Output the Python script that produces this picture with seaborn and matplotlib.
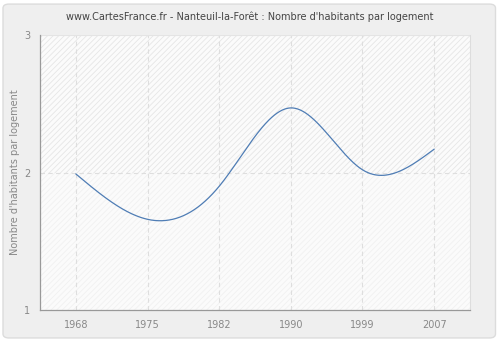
import numpy as np
import pandas as pd
import matplotlib
matplotlib.use("Agg")
import matplotlib.pyplot as plt
import seaborn as sns
from matplotlib.patches import FancyBboxPatch

years = ["1968", "1975", "1982", "1990", "1999", "2007"]
values = [1.99, 1.66, 1.90, 2.47, 2.02, 2.17]
y_ticks = [1, 2, 3]

title = "www.CartesFrance.fr - Nanteuil-la-Forêt : Nombre d'habitants par logement"
ylabel = "Nombre d'habitants par logement"


def natural_spline(x, y, n=400):
    x = np.asarray(x, float)
    y = np.asarray(y, float)
    k = len(x)
    h = np.diff(x)
    A = np.zeros((k, k))
    b = np.zeros(k)
    A[0, 0] = 1
    A[-1, -1] = 1
    for i in range(1, k - 1):
        A[i, i - 1] = h[i - 1]
        A[i, i] = 2 * (h[i - 1] + h[i])
        A[i, i + 1] = h[i]
        b[i] = 3 * ((y[i + 1] - y[i]) / h[i] - (y[i] - y[i - 1]) / h[i - 1])
    c = np.linalg.solve(A, b)
    xs = np.linspace(x[0], x[-1], n)
    ys = np.empty_like(xs)
    for j, xv in enumerate(xs):
        i = min(np.searchsorted(x, xv, side="right") - 1, k - 2)
        dx = xv - x[i]
        bi = (y[i + 1] - y[i]) / h[i] - h[i] * (2 * c[i] + c[i + 1]) / 3
        di = (c[i + 1] - c[i]) / (3 * h[i])
        ys[j] = y[i] + bi * dx + c[i] * dx ** 2 + di * dx ** 3
    return xs, ys


sns.set_theme(style="white")
plt.rcParams["font.family"] = ["DejaVu Sans"]
plt.rcParams["hatch.linewidth"] = 0.6

fig = plt.figure(figsize=(5, 3.4), dpi=100, facecolor="white")
bg = FancyBboxPatch((0.006, 0.006), 0.985, 0.982, boxstyle="round,pad=0,rounding_size=0.012",
                    transform=fig.transFigure, facecolor="#efefef", edgecolor="#dcdcdc",
                    linewidth=1.0, zorder=-10)
fig.patches.append(bg)

ax = fig.add_axes([0.08, 0.088, 0.86, 0.809])
ax.set_facecolor("white")

pos = np.arange(len(years))
xs, ys = natural_spline(pos, values)
df = pd.DataFrame({"x": xs, "y": ys})

ax.axhspan(2, 3, facecolor="#fbfbfb", edgecolor="#e6e6e6", hatch="//////", linewidth=0, zorder=0)
ax.axhspan(1, 2, facecolor="#fbfbfb", edgecolor="#f1f1f1", hatch="//////", linewidth=0, zorder=0)

for p in pos:
    ax.axvline(p, color="#dedede", linestyle=(0, (4, 3)), linewidth=0.8, zorder=1)
ax.axhline(2, color="#dedede", linestyle=(0, (4, 3)), linewidth=0.8, zorder=1)
ax.axhline(3, color="#e4e4e4", linewidth=0.8, zorder=1)

sns.lineplot(data=df, x="x", y="y", ax=ax, color="#4f7db5", linewidth=0.9, zorder=3,
             estimator=None, sort=False)

ax.set_xlim(-0.5, 5.5)
ax.set_ylim(1, 3)
ax.set_xticks(pos)
ax.set_xticklabels(years)
ax.set_yticks(y_ticks)
ax.set_yticklabels([str(t) for t in y_ticks])
ax.tick_params(axis="both", colors="#999999", labelcolor="#888888", labelsize=7,
               length=4, width=0.8, direction="out")
ax.tick_params(axis="x", pad=3)
ax.tick_params(axis="y", pad=3)
ax.set_xlabel("")
ax.set_ylabel(ylabel, fontsize=7, color="#888888", labelpad=3)

for s in ["left", "bottom"]:
    ax.spines[s].set_color("#999999")
    ax.spines[s].set_linewidth(0.9)
ax.spines["top"].set_visible(False)
ax.spines["right"].set_color("#dddddd")
ax.spines["right"].set_linewidth(0.8)

fig.text(0.5, 0.95, title, ha="center", va="center", fontsize=7, color="#444444")

fig.savefig("out.png", dpi=100, facecolor="white")
